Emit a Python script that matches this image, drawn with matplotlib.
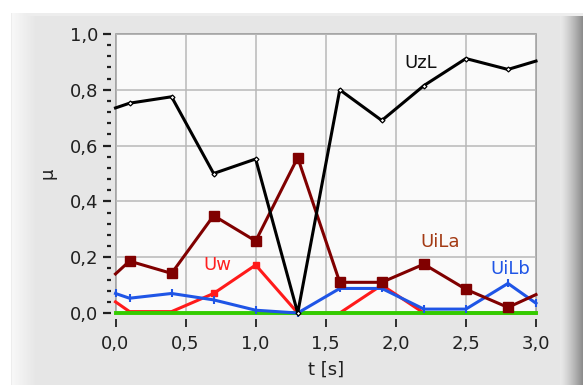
import numpy as np
import matplotlib
matplotlib.use("Agg")
import matplotlib.pyplot as plt
from matplotlib.ticker import MultipleLocator, FuncFormatter
from matplotlib.patches import Rectangle

# ---- data ----
t = [0.0, 0.1, 0.4, 0.7, 1.0, 1.3, 1.6, 1.9, 2.2, 2.5, 2.8, 3.0]
uzl = [0.735, 0.752, 0.775, 0.50, 0.552, 0.0, 0.80, 0.69, 0.815, 0.912, 0.873, 0.903]
uila = [0.14, 0.186, 0.142, 0.349, 0.258, 0.557, 0.11, 0.11, 0.175, 0.085, 0.02, 0.066]
uilb = [0.07, 0.053, 0.07, 0.047, 0.01, 0.0, 0.088, 0.088, 0.014, 0.014, 0.106, 0.035]
uw = [0.04, 0.005, 0.005, 0.07, 0.172, 0.0, 0.0, 0.10, 0.0, 0.0, 0.0, 0.0]
ug = [0.0] * len(t)

W, H = 583, 385
fig = plt.figure(figsize=(W / 100, H / 100), dpi=100)
fig.patch.set_facecolor("white")

# ---- panel background ----
bg = np.full((H, W), 0.905)
cols = np.arange(W)
left_ramp = np.clip((cols - 11) / 24.0, 0, 1)
bg = bg + (1 - left_ramp)[None, :] * (0.975 - 0.905) * (cols >= 11)[None, :]
right = cols >= 560
rr = np.clip((cols - 560) / 23.0, 0, 1) ** 1.3
bg[:, right] = (0.91 - 0.38 * rr[right])[None, :]
bg[:, :11] = 1.0
bg[:, 11] = 0.93
bg[:13, :] = 1.0
bg[13:16, 11:] = np.maximum(bg[13:16, 11:], 0.93)
bax = fig.add_axes([0, 0, 1, 1], zorder=-10)
bax.imshow(np.dstack([bg, bg, bg]), aspect="auto", interpolation="nearest", extent=[0, 1, 0, 1])
bax.axis("off")

L, R, T, B = 115.5, 536.0, 34.0, 313.0
ax = fig.add_axes([L / W, 1 - B / H, (R - L) / W, (B - T) / H])
ax.set_facecolor("#fafafa")
ax.set_xlim(0, 3.0)
ax.set_ylim(0, 1.0)

ax.xaxis.set_major_locator(MultipleLocator(0.5))
ax.yaxis.set_major_locator(MultipleLocator(0.2))
ax.yaxis.set_minor_locator(MultipleLocator(0.04))
fmt = FuncFormatter(lambda v, p: f"{v:.1f}".replace(".", ","))
ax.xaxis.set_major_formatter(fmt)
ax.yaxis.set_major_formatter(fmt)

ax.grid(True, which="major", color="#b8b8b8", lw=1.1)
ax.set_axisbelow(True)

for s in ax.spines.values():
    s.set_visible(False)
ax.spines["left"].set_position(("outward", 3.6))
ax.spines["bottom"].set_position(("outward", 4.3))
ax.add_patch(Rectangle((0, 0), 1, 1, transform=ax.transAxes, fill=False,
                       edgecolor="#9a9a9a", lw=1.2, zorder=0.5, clip_on=False))

ax.tick_params(axis="y", which="major", length=6, width=1.6, color="#202020",
               labelsize=13, pad=3, labelcolor="#202020")
ax.tick_params(axis="y", which="minor", length=3, width=1.6, color="#202020")
ax.tick_params(axis="x", which="major", length=5.5, width=1.3, color="#202020",
               labelsize=13, pad=6, labelcolor="#202020")

ax.set_xlabel("t [s]", fontsize=13, color="#202020")
ax.set_ylabel("μ", fontsize=13, color="#202020")
ax.xaxis.set_label_coords(0.5, (B - 361) / (B - T))
ax.yaxis.set_label_coords((57 - L) / (R - L), 0.5)

lw = 2.2
ax.plot(t, uw, color="#ff1a1a", lw=lw, marker="s", ms=5, markevery=[3, 4, 7],
        zorder=3, clip_on=False)
ax.plot(t, ug, color="#33cc00", lw=2.8, zorder=3.5, clip_on=False)
ax.plot(t, uilb, color="#1f55e6", lw=lw, marker="|", ms=6, mew=1.5, zorder=4, clip_on=False)
ax.plot(t, uila, color="#800000", lw=lw, marker="s", ms=6.5,
        markevery=list(range(1, len(t) - 1)), zorder=5, clip_on=False)
ax.plot(t, uzl, color="black", lw=lw, marker="D", ms=2.5, mfc="white", mew=0.9,
        markevery=list(range(1, len(t) - 1)), zorder=6, clip_on=False)

ax.text(2.18, 0.896, "UzL", color="#101010", fontsize=13, ha="center", va="center", zorder=7)
ax.text(0.73, 0.172, "Uw", color="#ff2020", fontsize=13, ha="center", va="center", zorder=7)
ax.text(2.315, 0.256, "UiLa", color="#a33a14", fontsize=13, ha="center", va="center", zorder=7)
ax.text(2.82, 0.158, "UiLb", color="#1f55e6", fontsize=13, ha="center", va="center", zorder=7)

fig.savefig("out.png", dpi=100)
